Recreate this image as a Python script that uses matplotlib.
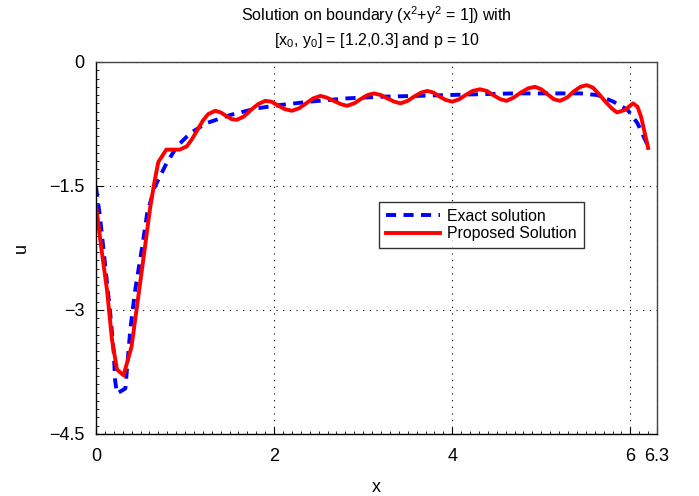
import matplotlib
matplotlib.use("Agg")
import matplotlib.pyplot as plt
from matplotlib.ticker import MultipleLocator

# ------------------------------------------------------------
# Data
# ------------------------------------------------------------

exact_x = [0.00, 0.045, 0.10, 0.16, 0.20, 0.215, 0.235, 0.33, 0.385, 0.44,
           0.52, 0.575, 0.66, 0.79, 0.91, 1.06, 1.24, 1.51, 1.81, 2.07,
           2.40, 2.82, 3.20, 3.60, 3.94, 4.30, 4.69, 5.10, 5.44, 5.63,
           5.81, 5.97, 6.08, 6.20]
exact_u = [-1.51, -1.87, -2.43, -3.04, -3.52, -3.85, -4.01, -3.95, -3.24, -2.76,
           -2.23, -1.83, -1.51, -1.23, -1.02, -0.86, -0.74, -0.64, -0.56, -0.52,
           -0.48, -0.44, -0.42, -0.41, -0.40, -0.39, -0.38, -0.38, -0.38, -0.40,
           -0.48, -0.58, -0.74, -1.02]

prop_x = [0.00, 0.06, 0.124, 0.18, 0.236, 0.31, 0.40, 0.46, 0.535, 0.61,
          0.66, 0.70, 0.79, 0.94, 1.02, 1.08, 1.14, 1.20, 1.26, 1.34,
          1.40, 1.46, 1.52, 1.58, 1.66, 1.74, 1.82, 1.90, 1.97, 2.05,
          2.12, 2.20, 2.28, 2.36, 2.44, 2.52, 2.59, 2.67, 2.75, 2.82,
          2.90, 2.97, 3.05, 3.12, 3.20, 3.27, 3.35, 3.42, 3.50, 3.57,
          3.65, 3.72, 3.79, 3.86, 3.93, 4.00, 4.08, 4.15, 4.23, 4.31,
          4.39, 4.46, 4.54, 4.61, 4.69, 4.77, 4.85, 4.93, 5.00, 5.07,
          5.14, 5.21, 5.29, 5.36, 5.44, 5.51, 5.58, 5.65, 5.72, 5.79,
          5.85, 5.94, 6.03, 6.08, 6.12, 6.20]
prop_u = [-1.73, -2.25, -2.76, -3.36, -3.72, -3.79, -3.44, -2.96, -2.36, -1.75,
          -1.43, -1.21, -1.06, -1.06, -1.02, -0.93, -0.82, -0.71, -0.63, -0.59,
          -0.61, -0.65, -0.69, -0.70, -0.66, -0.58, -0.51, -0.47, -0.48, -0.53,
          -0.57, -0.59, -0.56, -0.50, -0.44, -0.41, -0.43, -0.47, -0.51, -0.53,
          -0.50, -0.45, -0.40, -0.38, -0.40, -0.44, -0.48, -0.50, -0.47, -0.42,
          -0.37, -0.35, -0.37, -0.42, -0.46, -0.48, -0.45, -0.40, -0.35, -0.33,
          -0.35, -0.40, -0.45, -0.47, -0.43, -0.37, -0.32, -0.30, -0.33, -0.39,
          -0.45, -0.47, -0.43, -0.36, -0.30, -0.28, -0.31, -0.39, -0.48, -0.56,
          -0.61, -0.58, -0.50, -0.54, -0.66, -1.04]

x_ticks = [0, 2, 4, 6, 6.3]
x_tick_labels = ["0", "2", "4", "6", "6.3"]
y_ticks = [0, -1.5, -3, -4.5]
y_tick_labels = ["0", "\u22121.5", "\u22123", "\u22124.5"]

# ------------------------------------------------------------
# Plot
# ------------------------------------------------------------

plt.rcParams["font.family"] = ["Liberation Sans", "DejaVu Sans"]
plt.rcParams["mathtext.fontset"] = "custom"
plt.rcParams["mathtext.rm"] = "Liberation Sans"
plt.rcParams["mathtext.it"] = "Liberation Sans"

fig = plt.figure(figsize=(6.99, 4.96), dpi=100)
ax = fig.add_axes([0.1373, 0.125, 0.8027, 0.75])

ax.plot(exact_x, exact_u, color="blue", linewidth=2.8, linestyle=(0, (2.6, 1.9)),
        label="Exact solution")
ax.plot(prop_x, prop_u, color="red", linewidth=2.8, label="Proposed Solution")

ax.set_xlim(0, 6.3)
ax.set_ylim(-4.5, 0)
ax.set_xticks(x_ticks)
ax.set_xticklabels(x_tick_labels)
ax.set_yticks(y_ticks)
ax.set_yticklabels(y_tick_labels)
ax.xaxis.set_minor_locator(MultipleLocator(0.1))
ax.yaxis.set_minor_locator(MultipleLocator(0.1))
ax.tick_params(axis="x", which="major", direction="in", length=5, width=0.8,
               labelsize=13, pad=10)
ax.tick_params(axis="y", which="major", direction="in", length=5, width=0.8,
               labelsize=13, pad=8)
ax.tick_params(which="minor", direction="in", length=2, width=0.6)

ax.grid(True, which="major", linestyle=(0, (1, 5)), color="black", linewidth=0.8)

for side in ["top", "right"]:
    ax.spines[side].set_color("#444444")
for side in ax.spines:
    ax.spines[side].set_linewidth(1.0)

ax.set_xlabel("x", fontsize=13, labelpad=10)
ax.set_ylabel("u", fontsize=13, labelpad=14)
ax.set_title("Solution on boundary (x$^2$+y$^2$ = 1]) with\n"
             "[x$_0$, y$_0$] = [1.2,0.3] and p = 10",
             fontsize=11.5, pad=12, linespacing=1.35)

leg = ax.legend(loc="upper left", bbox_to_anchor=(0.504, 0.624), fontsize=11.4,
                frameon=True, fancybox=False, edgecolor="black",
                borderpad=0.45, handlelength=3.4, handletextpad=0.45,
                labelspacing=0.15, borderaxespad=0)
leg.get_frame().set_linewidth(1.0)

fig.savefig("out.png", dpi=100)
